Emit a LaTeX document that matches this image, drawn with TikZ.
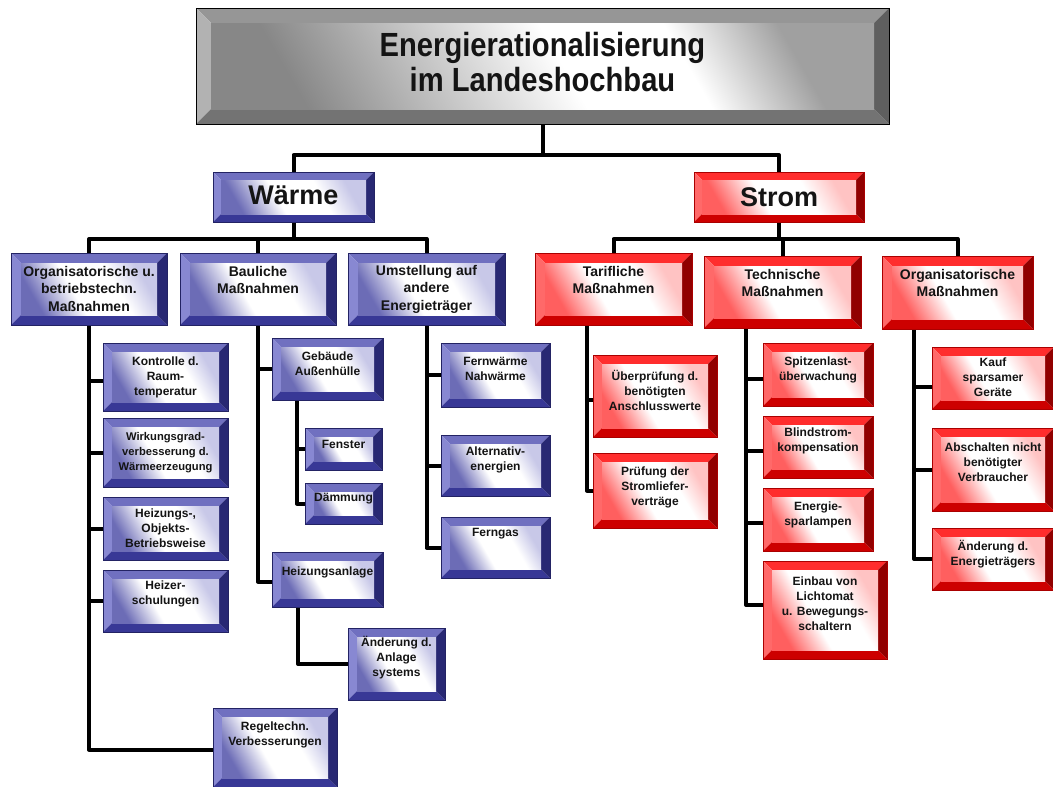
\documentclass[tikz,border=0pt]{standalone}
\usepackage{fontspec}
\setmainfont{Liberation Sans}
\newfontfamily\titlefont[FakeStretch=0.87]{Liberation Sans}
\usetikzlibrary{calc}
\pgfdeclarelayer{bg}
\pgfsetlayers{bg,main}

\definecolor{bT}{RGB}{112,112,192}
\definecolor{bL}{RGB}{136,136,210}
\definecolor{bB}{RGB}{56,56,150}
\definecolor{bR}{RGB}{40,40,115}
\definecolor{bO}{RGB}{35,35,100}
\definecolor{bIn}{RGB}{108,108,182}
\definecolor{bInL}{RGB}{200,200,232}
\definecolor{rT}{RGB}{255,45,45}
\definecolor{rL}{RGB}{255,105,105}
\definecolor{rB}{RGB}{205,0,0}
\definecolor{rR}{RGB}{145,0,0}
\definecolor{rO}{RGB}{170,0,0}
\definecolor{rIn}{RGB}{255,95,95}
\definecolor{rInL}{RGB}{255,195,195}
\definecolor{gT}{RGB}{150,150,150}
\definecolor{gL}{RGB}{178,178,178}
\definecolor{gB}{RGB}{115,115,115}
\definecolor{gR}{RGB}{95,95,95}
\definecolor{gIn}{RGB}{135,135,135}
\definecolor{gInL}{RGB}{160,160,160}
\definecolor{txt}{RGB}{20,20,20}

\pgfdeclarehorizontalshading{blueinner}{100bp}{color(0bp)=(bIn); color(25bp)=(bIn); color(43bp)=(white); color(62bp)=(white); color(75bp)=(bInL); color(100bp)=(bInL)}
\pgfdeclarehorizontalshading{redinner}{100bp}{color(0bp)=(rIn); color(25bp)=(rIn); color(43bp)=(white); color(62bp)=(white); color(75bp)=(rInL); color(100bp)=(rInL)}
\pgfdeclarehorizontalshading{grayinner}{100bp}{color(0bp)=(gIn); color(25bp)=(gIn); color(52bp)=(white); color(64bp)=(white); color(75bp)=(gInL); color(100bp)=(gInL)}

\tikzset{
  bevelbox/.style n args={7}{%
    draw=#7, line width=0.7, inner sep=0, outer sep=0, rectangle,
    path picture={
      \coordinate (pa) at (path picture bounding box.north west);
      \coordinate (pb) at (path picture bounding box.north east);
      \coordinate (pc) at (path picture bounding box.south east);
      \coordinate (pd) at (path picture bounding box.south west);
      \coordinate (qa) at ($(pa)+(#6,-#6)$);
      \coordinate (qb) at ($(pb)+(-#6,-#6)$);
      \coordinate (qc) at ($(pc)+(-#6,#6)$);
      \coordinate (qd) at ($(pd)+(#6,#6)$);
      \fill[#1] (pa)--(pb)--(qb)--(qa)--cycle;
      \fill[#2] (pa)--(qa)--(qd)--(pd)--cycle;
      \fill[#3] (pd)--(qd)--(qc)--(pc)--cycle;
      \fill[#4] (pb)--(pc)--(qc)--(qb)--cycle;
      \shade[shading=#5, shading angle=30] (qa) rectangle (qc);
    }},
  blue1/.style={bevelbox={bT}{bL}{bB}{bR}{blueinner}{8}{bO}},
  blue2/.style={bevelbox={bT}{bL}{bB}{bR}{blueinner}{10}{bO}},
  blue3/.style={bevelbox={bT}{bL}{bB}{bR}{blueinner}{9}{bO}},
  red1/.style={bevelbox={rT}{rL}{rB}{rR}{redinner}{8}{rO}},
  red2/.style={bevelbox={rT}{rL}{rB}{rR}{redinner}{10}{rO}},
  red3/.style={bevelbox={rT}{rL}{rB}{rR}{redinner}{9}{rO}},
  graybox/.style={bevelbox={gT}{gL}{gB}{gR}{grayinner}{15}{black}},
  tt/.style={font=\titlefont\bfseries\fontsize{33.5}{35}\selectfont, align=center, inner sep=0, text=txt},
  t1/.style={font=\bfseries\fontsize{27}{30}\selectfont, align=center, inner sep=0, text=txt},
  t2/.style={font=\bfseries\fontsize{14}{17.5}\selectfont, align=center, inner sep=0, text=txt},
  t3/.style={font=\bfseries\fontsize{12}{14.8}\selectfont, align=center, inner sep=0, text=txt},
  t3s/.style={font=\bfseries\fontsize{11.2}{15}\selectfont, align=center, inner sep=0, text=txt},
  conn/.style={line width=4, line join=round, black},
}

% style, text style, name, x1, y1, x2, y2, pad, text
\newcommand\bx[9]{%
  \node[#1, minimum width={#6-#4}, minimum height={#7-#5}] (#3) at ({(#4+#6)/2},{-(#5+#7)/2}) {};
  \node[#2, anchor=north] (#3-t) at ($(#3.north)+(0,-#8)$) {#9};
}

\begin{document}
\begin{tikzpicture}[x=1pt,y=1pt]
\useasboundingbox (0,0) rectangle (1053,-787);

\bx{graybox}{tt}{title}{196}{8}{889}{124}{24}{Energierationalisierung\\im Landeshochbau}
\bx{blue1}{t1}{waerme}{213}{172}{374}{222}{14}{Wärme}
\bx{red1}{t1}{strom}{694}{172}{864}{222}{15}{Strom}

% level 2
\bx{blue2}{t2}{org}{11}{253}{167}{325}{13}{Organisatorische u.\\betriebstechn.\\Maßnahmen}
\bx{blue2}{t2}{baul}{180}{253}{336}{325}{13}{Bauliche\\Maßnahmen}
\bx{blue2}{t2}{umst}{348}{253}{505}{325}{12}{Umstellung auf\\andere\\Energieträger}
\bx{red2}{t2}{tarif}{535}{253}{692}{325}{13}{Tarifliche\\Maßnahmen}
\bx{red2}{t2}{techn}{704}{256}{861}{328}{13}{Technische\\Maßnahmen}
\bx{red2}{t2}{orgs}{882}{256}{1033}{329}{13}{Organisatorische\\Maßnahmen}

% level 3 blue
\bx{blue3}{t3}{kontr}{103}{343}{228}{411}{14}{Kontrolle d.\\Raum-\\temperatur}
\bx{blue3}{t3s}{wirk}{103}{418}{228}{487}{14}{Wirkungsgrad-\\verbesserung d.\\Wärmeerzeugung}
\bx{blue3}{t3}{heizb}{103}{497}{228}{560}{12}{Heizungs-,\\Objekts-\\Betriebsweise}
\bx{blue3}{t3}{heizer}{103}{570}{228}{632}{11}{Heizer-\\schulungen}
\bx{blue3}{t3}{regel}{213}{708}{337}{787}{14}{Regeltechn.\\Verbesserungen}
\bx{blue3}{t3}{geb}{272}{338}{383}{400}{14}{Gebäude\\Außenhülle}
\bx{blue3}{t3}{fenster}{305}{428}{382}{470}{12}{Fenster}
\bx{blue3}{t3}{daemm}{305}{483}{382}{524}{10}{Dämmung}
\bx{blue3}{t3}{hanl}{272}{552}{383}{607}{15}{Heizungsanlage}
\bx{blue3}{t3}{aend}{348}{628}{445}{700}{8}{Änderung d.\\Anlage\\systems}
\bx{blue3}{t3}{fern}{441}{343}{550}{407}{14}{Fernwärme\\Nahwärme}
\bx{blue3}{t3}{alt}{441}{435}{550}{496}{12}{Alternativ-\\energien}
\bx{blue3}{t3}{ferngas}{441}{517}{550}{578}{11}{Ferngas}

% level 3 red
\bx{red3}{t3}{uebp}{593}{355}{717}{437}{15}{Überprüfung d.\\benötigten\\Anschlusswerte}
\bx{red3}{t3}{pruef}{593}{453}{717}{528}{14}{Prüfung der\\Stromliefer-\\verträge}
\bx{red3}{t3}{spitz}{763}{343}{873}{406}{14}{Spitzenlast-\\überwachung}
\bx{red3}{t3}{blind}{763}{416}{873}{478}{12}{Blindstrom-\\kompensation}
\bx{red3}{t3}{esparl}{763}{488}{873}{551}{14}{Energie-\\sparlampen}
\bx{red3}{t3}{einbau}{763}{561}{887}{659}{16}{Einbau von\\Lichtomat\\u. Bewegungs-\\schaltern}
\bx{red3}{t3}{kauf}{932}{347}{1054}{409}{11}{Kauf\\sparsamer\\Geräte}
\bx{red3}{t3}{absch}{932}{428}{1054}{511}{15}{Abschalten nicht\\benötigter\\Verbraucher}
\bx{red3}{t3}{aende}{932}{528}{1054}{590}{12}{Änderung d.\\Energieträgers}

\begin{pgfonlayer}{bg}
  \draw[conn] (title.south) -- ++(0,-31) coordinate (bus0);
  \draw[conn] (waerme.north) |- (bus0) -| (strom.north);

  \draw[conn] (waerme.south) -- ++(0,-17) coordinate (busW);
  \draw[conn] (org.north) |- (busW) -| (umst.north);
  \draw[conn] (busW) -| (baul.north);

  \draw[conn] (strom.south) -- ++(0,-17) coordinate (busS);
  \draw[conn] (tarif.north) |- (busS) -| (orgs.north);
  \draw[conn] (busS) -| (techn.north);

  % Organisatorische u. betriebstechn.
  \draw[conn] (org.south) |- ($(kontr.west)+(0,-4)$);
  \draw[conn] (org.south) |- (wirk.west);
  \draw[conn] (org.south) |- (heizb.west);
  \draw[conn] (org.south) |- (heizer.west);
  \draw[conn] (org.south) |- ($(regel.west)+(0,-2)$);

  % Bauliche
  \draw[conn] (baul.south) |- (geb.west);
  \draw[conn] (baul.south) |- ($(hanl.west)+(0,-2)$);
  \coordinate (gebd) at ($(geb.south west)+(25,0)$);
  \draw[conn] (gebd) |- (fenster.west);
  \draw[conn] (gebd) |- (daemm.west);
  \coordinate (hanld) at ($(hanl.south west)+(26,0)$);
  \draw[conn] (hanld) |- (aend.west);

  % Umstellung
  \draw[conn] (umst.south) |- (fern.west);
  \draw[conn] (umst.south) |- (alt.west);
  \draw[conn] (umst.south) |- (ferngas.west);

  % Tarifliche
  \coordinate (tarifd) at ($(tarif.south west)+(52,0)$);
  \draw[conn] (tarifd) |- ($(uebp.west)+(0,-4)$);
  \draw[conn] (tarifd) |- (pruef.west);

  % Technische
  \coordinate (technd) at ($(techn.south west)+(42,0)$);
  \draw[conn] (technd) |- ($(spitz.west)+(0,-4)$);
  \draw[conn] (technd) |- ($(blind.west)+(0,-4)$);
  \draw[conn] (technd) |- ($(esparl.west)+(0,-3)$);
  \draw[conn] (technd) |- ($(einbau.west)+(0,5)$);

  % Organisatorische (Strom)
  \coordinate (orgsd) at ($(orgs.south west)+(32,0)$);
  \draw[conn] (orgsd) |- ($(kauf.west)+(0,-9)$);
  \draw[conn] (orgsd) |- (absch.west);
  \draw[conn] (orgsd) |- (aende.west);
\end{pgfonlayer}
\end{tikzpicture}
\end{document}
